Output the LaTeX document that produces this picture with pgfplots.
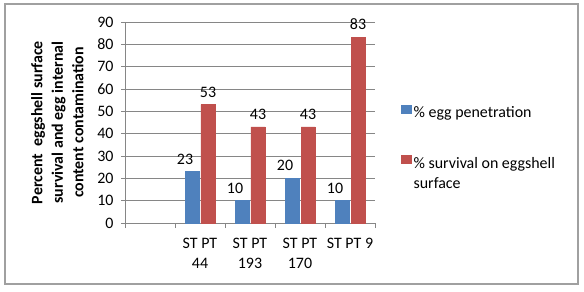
\documentclass[border=0pt]{standalone}
\usepackage{pgfplots}
\pgfplotsset{compat=1.18}
\usepackage{fontspec}
\setmainfont{Carlito}
\definecolor{barblue}{HTML}{4F81BD}
\definecolor{barred}{HTML}{C0504D}
\definecolor{gridgray}{HTML}{868686}
\definecolor{framegray}{HTML}{A0A0A0}
\begin{document}
\begin{tikzpicture}[x=1bp,y=1bp]
\useasboundingbox (0,0) rectangle (584,291);
\draw[framegray,line width=1.5bp] (5,7) rectangle (578,287);
\begin{axis}[
  at={(125bp,68bp)}, anchor=south west,
  scale only axis, width=250bp, height=201bp,
  ybar, bar width=14bp,
  xmin=-0.5, xmax=4.5, ymin=0, ymax=90,
  ytick={0,10,...,90},
  xtick={1,2,3,4},
  xticklabels={{ST PT\\44},{ST PT\\193},{ST PT\\170},{ST PT 9}},
  xticklabel style={align=center,font=\fontsize{16}{19.5}\selectfont, yshift=-8bp},
  major x tick style={draw=none},
  minor xtick={-0.5,0.5,1.5,2.5,3.5,4.5},
  minor tick length=5bp,
  major tick length=4bp,
  tick align=outside,
  xtick pos=bottom, ytick pos=left,
  ymajorgrids,
  grid style={gridgray, line width=0.8bp},
  tick style={gridgray, line width=0.8bp},
  axis line style={gridgray, line width=0.8bp},
  axis x line*=bottom, axis y line*=left,
  yticklabel style={font=\fontsize{16}{19}\selectfont, xshift=-4bp},
  /pgf/number format/assume math mode=true,
  ylabel={\begin{tabular}{c}Percent\ \ eggshell surface\\survival and egg internal\\content contamination\end{tabular}},
  ylabel style={font=\bfseries\fontsize{16}{20.5}\selectfont, at={(axis description cs:-0.265,0.5)}, anchor=center},
  nodes near coords,
  every node near coord/.append style={font=\fontsize{16}{19}\selectfont, black, yshift=4bp},
  legend style={draw=none, fill=none, at={(273bp,121bp)}, anchor=north west,
    font=\fontsize{16}{20}\selectfont, row sep=32bp,
    /tikz/every even column/.append style={column sep=0bp},
    nodes={inner xsep=2bp}},
  legend cell align=left,
  legend image code/.code={\fill[#1] (0bp,-1bp) rectangle (10bp,7bp);},
]
\addplot[fill=barblue, draw=barblue, every node near coord/.append style={xshift=-7bp}] coordinates {(1,23) (2,10) (3,20) (4,10)};
\addplot[fill=barred, draw=barred] coordinates {(1,53) (2,43) (3,43) (4,83)};
\addlegendentry{\% egg penetration}
\addlegendentry{\begin{tabular}[t]{@{}l@{}}\% survival on eggshell\\surface\end{tabular}}
\end{axis}
\end{tikzpicture}
\end{document}
